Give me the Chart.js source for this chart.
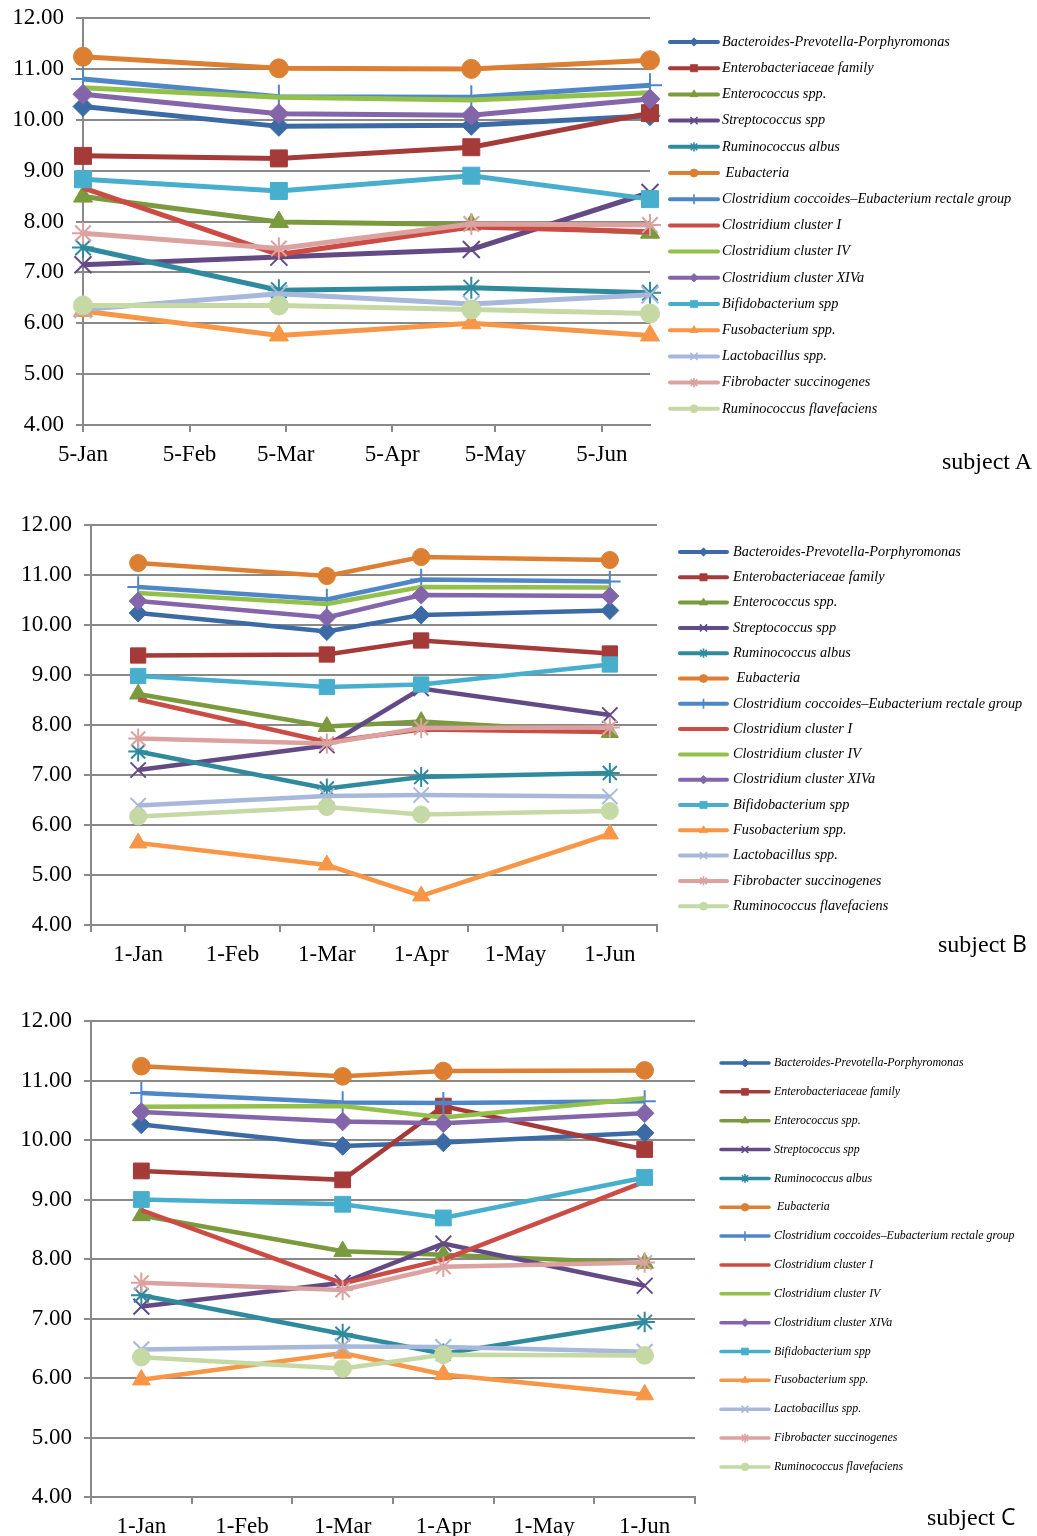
<!DOCTYPE html>
<html><head><meta charset="utf-8">
<script src="https://cdn.jsdelivr.net/npm/chart.js@4.4.1/dist/chart.umd.min.js"></script>
<style>
html,body{margin:0;padding:0;background:#fff;width:1037px;height:1536px;overflow:hidden;}
.wrap{position:absolute;left:0;width:1037px;}
canvas{display:block;}
.subj{position:absolute;font-family:"Liberation Serif","Times New Roman",serif;font-size:24px;color:#000;white-space:nowrap;line-height:1;}
.sans{font-family:"Open Sans","DejaVu Sans",sans-serif;font-size:23px;}
</style></head><body>
<div class="wrap" style="top:0px"><canvas id="cA" width="1037" height="490"></canvas></div>
<div class="wrap" style="top:490px"><canvas id="cB" width="1037" height="490"></canvas></div>
<div class="wrap" style="top:980px"><canvas id="cC" width="1037" height="556"></canvas></div>
<div class="subj" style="left:942px;top:449px">subject A</div>
<div class="subj" style="left:938px;top:932px">subject <span class="sans">B</span></div>
<div class="subj" style="left:927px;top:1505px">subject <span class="sans">C</span></div>
<script>
// ---------- DATA ----------
const seriesNames = [
  'Bacteroides-Prevotella-Porphyromonas',
  'Enterobacteriaceae family',
  'Enterococcus spp.',
  'Streptococcus spp',
  'Ruminococcus albus',
  ' Eubacteria',
  'Clostridium coccoides\u2013Eubacterium rectale group',
  'Clostridium cluster I',
  'Clostridium cluster IV',
  'Clostridium cluster XIVa',
  'Bifidobacterium spp',
  'Fusobacterium spp.',
  'Lactobacillus spp.',
  'Fibrobacter succinogenes',
  'Ruminococcus flavefaciens'
];

// Subject A: sampling dates as day-of-year (Jan 1 = 0): 5-Jan, ~3-Mar, ~28-Apr, ~19-Jun
const sampleDaysA = [4, 61, 117, 169];
const tickDaysA = [4, 35, 63, 94, 124, 155];
const tickLabelsA = ['5-Jan', '5-Feb', '5-Mar', '5-Apr', '5-May', '5-Jun'];

// Subjects B and C: monthly category axis
const monthLabelsBC = ['1-Jan', '1-Feb', '1-Mar', '1-Apr', '1-May', '1-Jun'];
const sampleMonthsBC = ['1-Jan', '1-Mar', '1-Apr', '1-Jun'];

const yTickValues = [4, 5, 6, 7, 8, 9, 10, 11, 12];

const valuesA = [
  [10.26, 9.87, 9.89, 10.08],
  [9.29, 9.24, 9.46, 10.13],
  [8.49, 7.99, 7.94, 7.78],
  [7.15, 7.30, 7.45, 8.57],
  [7.49, 6.65, 6.70, 6.60],
  [11.24, 11.01, 11.00, 11.17],
  [10.80, 10.45, 10.44, 10.68],
  [8.66, 7.35, 7.89, 7.80],
  [10.63, 10.44, 10.39, 10.53],
  [10.50, 10.12, 10.09, 10.41],
  [8.83, 8.60, 8.90, 8.44],
  [6.24, 5.76, 6.00, 5.76],
  [6.27, 6.58, 6.38, 6.56],
  [7.77, 7.47, 7.95, 7.93],
  [6.35, 6.35, 6.27, 6.19]
];

const valuesB = [
  [10.24, 9.87, 10.20, 10.29],
  [9.39, 9.41, 9.69, 9.43],
  [8.62, 7.97, 8.07, 7.85],
  [7.10, 7.59, 8.73, 8.20],
  [7.47, 6.73, 6.96, 7.04],
  [11.24, 10.98, 11.36, 11.30],
  [10.76, 10.51, 10.91, 10.87],
  [8.51, 7.66, 7.91, 7.86],
  [10.64, 10.42, 10.76, 10.75],
  [10.48, 10.15, 10.60, 10.58],
  [8.98, 8.76, 8.81, 9.21],
  [5.64, 5.20, 4.58, 5.82],
  [6.39, 6.58, 6.60, 6.57],
  [7.73, 7.63, 7.94, 7.95],
  [6.17, 6.36, 6.21, 6.28]
];

const valuesC = [
  [10.26, 9.90, 9.96, 10.12],
  [9.48, 9.33, 10.57, 9.84],
  [8.73, 8.13, 8.07, 7.93],
  [7.20, 7.60, 8.26, 7.55],
  [7.39, 6.74, 6.41, 6.94],
  [11.24, 11.07, 11.16, 11.17],
  [10.79, 10.63, 10.62, 10.65],
  [8.82, 7.59, 7.99, 9.30],
  [10.56, 10.57, 10.38, 10.70],
  [10.47, 10.31, 10.28, 10.45],
  [9.00, 8.92, 8.69, 9.37],
  [5.97, 6.42, 6.06, 5.72],
  [6.48, 6.53, 6.52, 6.44],
  [7.60, 7.48, 7.87, 7.94],
  [6.35, 6.16, 6.39, 6.38]
];

// ---------- STYLES ----------
const seriesColors = ['#3B6AA4','#A53B39','#7A9A3D','#634A85','#2F8A9E','#DC7F33','#4E86C8',
  '#CB4B45','#93C04B','#8465AA','#47AFCD','#F79646','#A7B8DA','#DBA2A0','#C4D9A4'];
const markerStyles = ['rectRot','rect','triangle','crossRot','star','circle','cross',
  null,null,'rectRot','rect','triangle','crossRot','star','circle'];
const markerRadius = {rectRot:10, rect:12, triangle:11, crossRot:12, star:11, circle:9.5, cross:12};
const markerBorder = {rectRot:1, rect:1, triangle:1, crossRot:2, star:2, circle:1, cross:2};
const GRID = '#898989';
const FONT = '"Liberation Serif", "Times New Roman", serif';

const sideLegend = {
  id: 'sideLegend',
  afterDraw(chart, args, o) {
    const ctx = chart.ctx;
    ctx.save();
    chart.data.datasets.forEach((ds, i) => {
      const y = o.y0 + i * o.dy;
      ctx.strokeStyle = ds.borderColor;
      ctx.lineWidth = o.lw;
      ctx.lineCap = 'round';
      ctx.beginPath(); ctx.moveTo(o.x1, y); ctx.lineTo(o.x2, y); ctx.stroke();
      const st = markerStyles[i];
      if (st) {
        ctx.fillStyle = ds.borderColor;
        ctx.strokeStyle = ds.borderColor;
        ctx.lineWidth = markerBorder[st] * 0.8;
        ctx.lineCap = 'butt';
        Chart.helpers.drawPoint(ctx, {pointStyle: st, radius: markerRadius[st] * o.ms, borderWidth: markerBorder[st], rotation: 0}, (o.x1 + o.x2) / 2, y);
      }
      ctx.fillStyle = '#000';
      ctx.font = o.font;
      ctx.textBaseline = 'middle';
      ctx.textAlign = 'left';
      ctx.fillText(ds.label, o.tx, y);
    });
    ctx.restore();
  }
};

function makeDatasets(values, xs, sc, lw) {
  return seriesNames.map((name, i) => {
    const st = markerStyles[i];
    return {
      label: name,
      data: values[i].map((v, j) => ({x: xs[j], y: v})),
      borderColor: seriesColors[i],
      backgroundColor: seriesColors[i],
      pointBackgroundColor: seriesColors[i],
      pointBorderColor: seriesColors[i],
      borderWidth: lw,
      pointStyle: st || 'circle',
      pointRadius: st ? markerRadius[st] * sc : 0,
      pointHoverRadius: st ? markerRadius[st] * sc : 0,
      pointBorderWidth: st ? markerBorder[st] : 0,
      tension: 0,
      spanGaps: true,
      clip: false,
      order: -i
    };
  });
}

function zeroPad(s) { s.paddingTop = 0; s.paddingBottom = 0; s.paddingLeft = 0; s.paddingRight = 0; }

function yScale(width) {
  return {
    min: 4, max: 12,
    afterBuildTicks(s) { s.ticks = yTickValues.map(v => ({value: v})); },
    ticks: {callback: v => Number(v).toFixed(2), font: {family: FONT, size: 23}, color: '#000', padding: 12},
    grid: {color: GRID, lineWidth: 2, tickLength: 7},
    border: {color: GRID, width: 2},
    afterFit(s) { s.width = width; zeroPad(s); }
  };
}

function baseOptions(pad, ywidth, xscale, legendOpts) {
  return {
    responsive: false, animation: false, events: [],
    layout: {padding: pad},
    plugins: {legend: {display: false}, tooltip: {enabled: false}, sideLegend: legendOpts},
    scales: {x: xscale, y: yScale(ywidth)}
  };
}

// ---------- SUBJECT A ----------
new Chart(document.getElementById('cA'), {
  type: 'line',
  data: {datasets: makeDatasets(valuesA, sampleDaysA, 1.0, 5)},
  options: baseOptions({left: 0, top: 18, right: 1037 - 650, bottom: 0}, 83, {
    type: 'linear', min: 4, max: 169,
    afterBuildTicks(s) { s.ticks = tickDaysA.map(v => ({value: v})); },
    ticks: {callback: (v, i) => tickLabelsA[i], font: {family: FONT, size: 23}, color: '#000', padding: 9, maxRotation: 0, autoSkip: false},
    grid: {drawOnChartArea: false, color: GRID, lineWidth: 2, tickLength: 7},
    border: {color: GRID, width: 2},
    afterFit(s) { s.height = 490 - 425; zeroPad(s); }
  }, {x1: 670, x2: 718, tx: 722, y0: 42, dy: 26.2, lw: 4, ms: 0.42, font: 'italic 14.3px ' + FONT}),
  plugins: [sideLegend]
});

// ---------- SUBJECT B ----------
function catX(h) {
  return {
    type: 'category', labels: monthLabelsBC, offset: true,
    ticks: {font: {family: FONT, size: 23}, color: '#000', padding: 9, maxRotation: 0, autoSkip: false},
    grid: {offset: true, drawOnChartArea: false, color: GRID, lineWidth: 2, tickLength: 7},
    border: {color: GRID, width: 2},
    afterFit(s) { s.height = h; zeroPad(s); }
  };
}
new Chart(document.getElementById('cB'), {
  type: 'line',
  data: {labels: monthLabelsBC, datasets: makeDatasets(valuesB, sampleMonthsBC, 0.9, 4.5)},
  options: baseOptions({left: 0, top: 35, right: 1037 - 657, bottom: 0}, 91, catX(490 - 435),
    {x1: 680, x2: 727, tx: 733, y0: 62, dy: 25.3, lw: 4, ms: 0.42, font: 'italic 14.3px ' + FONT}),
  plugins: [sideLegend]
});

// ---------- SUBJECT C ----------
new Chart(document.getElementById('cC'), {
  type: 'line',
  data: {labels: monthLabelsBC, datasets: makeDatasets(valuesC, sampleMonthsBC, 0.93, 4.5)},
  options: baseOptions({left: 0, top: 41, right: 1037 - 695, bottom: 0}, 91, catX(556 - 517),
    {x1: 721, x2: 769, tx: 774, y0: 83, dy: 28.85, lw: 3.5, ms: 0.4, font: 'italic 11.9px ' + FONT}),
  plugins: [sideLegend]
});
</script>
</body></html>
